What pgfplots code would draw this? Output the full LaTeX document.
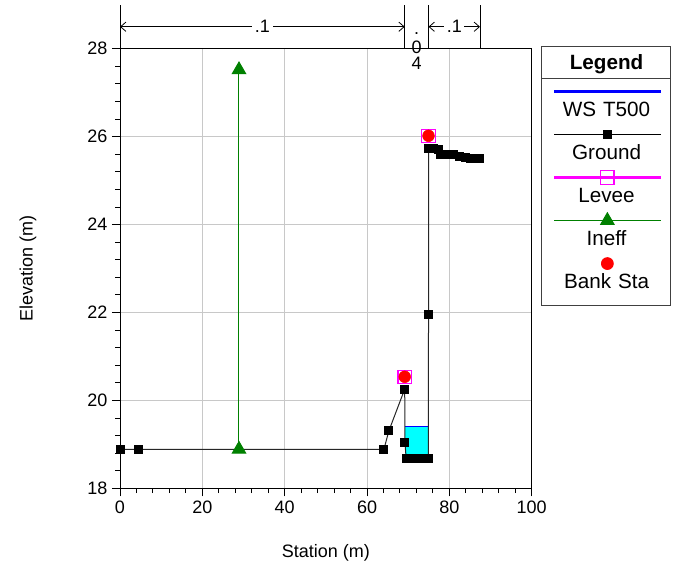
\documentclass[border=0pt]{standalone}
\usepackage{fontspec}
\setmainfont{Liberation Sans}
\usepackage{pgfplots}
\pgfplotsset{compat=1.18}
\usetikzlibrary{arrows.meta}
\definecolor{ineffgreen}{RGB}{0,128,0}
\definecolor{gridgray}{RGB}{200,200,200}
\definecolor{wscyan}{RGB}{0,255,255}
\definecolor{wsblue}{RGB}{0,0,255}
\definecolor{leveemag}{RGB}{255,0,255}
\definecolor{bankred}{RGB}{255,0,0}
\pgfplotsset{
  legWS/.style={legend image code/.code={%
    \path (0pt,0pt);
    \begin{scope}[overlay]
    \draw[draw=wsblue, line width=1.6pt] plot coordinates {(9pt,19pt) (89pt,19pt)};
    \end{scope}}},
  legGround/.style={legend image code/.code={%
    \path (0pt,0pt);
    \begin{scope}[overlay]
    \draw[draw=black, line width=0.75pt, mark=square*, mark size=3pt, mark repeat=2, mark phase=2, mark options={draw=black, fill=black}] plot coordinates {(9pt,19pt) (49pt,19pt) (89pt,19pt)};
    \end{scope}}},
  legLevee/.style={legend image code/.code={%
    \path (0pt,0pt);
    \begin{scope}[overlay]
    \draw[draw=leveemag, line width=1.6pt, mark=square, mark size=5pt, mark repeat=2, mark phase=2, mark options={draw=leveemag, fill=white, line width=0.9pt}] plot coordinates {(9pt,19pt) (49pt,19pt) (89pt,19pt)};
    \end{scope}}},
  legIneff/.style={legend image code/.code={%
    \path (0pt,0pt);
    \begin{scope}[overlay]
    \draw[draw=ineffgreen, line width=0.75pt, mark=triangle*, mark size=5.8pt, mark repeat=2, mark phase=2, mark options={draw=ineffgreen, fill=ineffgreen}] plot coordinates {(9pt,19pt) (49pt,19pt) (89pt,19pt)};
    \end{scope}}},
  legBank/.style={legend image code/.code={%
    \path (0pt,0pt);
    \begin{scope}[overlay]
    \draw[only marks, mark=*, mark size=4.4pt, mark options={draw=bankred, fill=bankred}] plot coordinates {(49pt,19pt)};
    \end{scope}}},
  legTitle/.style={legend image code/.code={%
    \path (0pt,0pt);
    \draw[overlay, draw=black!75, line width=0.75pt] (0pt,-6.45pt) -- (96pt,-6.45pt);}},
}
\begin{document}
\begin{tikzpicture}
\useasboundingbox (0,0) rectangle (508.5pt,426.75pt);
\begin{axis}[
  at={(90pt,60.4pt)}, anchor=south west,
  width=308.8pt, height=329.8pt, scale only axis,
  xmin=0, xmax=100, ymin=18, ymax=28,
  xtick={0,20,...,100}, ytick={18,20,...,28},
  minor x tick num=4, minor y tick num=4,
  tick pos=left, tick align=outside,
  major tick length=6pt, minor tick length=3.5pt,
  every tick/.style={black, line width=0.75pt},
  grid=major, major grid style={gridgray, line width=0.75pt},
  axis line style={black, line width=0.75pt},
  /pgf/number format/assume math mode=true,
  tick label style={font=\fontsize{13.5}{16}\selectfont},
  xlabel={Station (m)}, ylabel={Elevation (m)},
  every axis x label/.style={at={(axis description cs:0.5,-0.1467)}, anchor=center, font=\fontsize{13.5}{16}\selectfont},
  every axis y label/.style={at={(axis description cs:-0.2233,0.5)}, rotate=90, anchor=center, font=\fontsize{13.5}{16}\selectfont},
  clip=false,
  legend style={at={(axis description cs:1.0226,1.0064)}, anchor=north west,
    draw=black!75, line width=0.75pt, fill=white, inner sep=0pt,
    row sep=0pt, column sep=0pt,
    font=\fontsize{15.5}{18}\selectfont,
    nodes={inner sep=0pt, text width=96pt, align=center, text height=28.8pt, text depth=3.45pt},
    cells={anchor=base}},
]
% water surface
\addplot[fill=wscyan, draw=none, forget plot] coordinates {(69.2,18.69) (69.2,19.41) (74.9,19.41) (74.9,18.69)};
\addplot[draw=wsblue, line width=1pt, forget plot] coordinates {(69.2,19.41) (74.9,19.41)};
% ground
\addplot[draw=black!85, line width=0.75pt, mark=square*, mark size=3pt, mark options={fill=black, draw=black, solid}, forget plot] coordinates {
(0,18.89) (4.45,18.89) (64.1,18.89) (65.3,19.31) (69.15,20.26) (69.2,19.05)
(69.5,18.69) (70.6,18.69) (71.7,18.69) (72.8,18.69) (73.9,18.69) (74.9,18.69)
(74.93,21.96) (74.93,25.73) (76.2,25.74) (77.3,25.7) (77.8,25.59) (79.5,25.6)
(81.0,25.59) (82.4,25.56) (83.8,25.53) (85.2,25.51) (86.4,25.5) (87.4,25.51)};
% levee
\addplot[only marks, draw=leveemag, mark=square, mark size=5pt, mark options={draw=leveemag, fill=none, line width=0.9pt}, forget plot] coordinates {(69.15,20.54) (74.93,26.02)};
% ineffective
\addplot[draw=ineffgreen, line width=0.75pt, mark=triangle*, mark size=5.8pt, mark options={solid, draw=ineffgreen, fill=ineffgreen}, forget plot] coordinates {(28.9,18.89) (28.9,27.52)};
% bank stations
\addplot[only marks, mark=*, mark size=4.4pt, mark options={draw=bankred, fill=bankred}, forget plot] coordinates {(69.15,20.54) (74.93,26.02)};

% legend
\addlegendimage{legTitle}
\addlegendentry[text height=17.6pt, text depth=6.45pt, font=\fontsize{15.5}{18}\selectfont\bfseries]{Legend}
\addlegendimage{legWS}
\addlegendentry{WS T500}
\addlegendimage{legGround}
\addlegendentry{Ground}
\addlegendimage{legLevee}
\addlegendentry{Levee}
\addlegendimage{legIneff}
\addlegendentry{Ineff}
\addlegendimage{legBank}
\addlegendentry[text depth=12.45pt]{Bank Sta}

% dimension annotations above the plot
\draw[black, line width=0.6pt] (axis cs:0,28) -- (axis cs:0,29.0);
\draw[black, line width=0.6pt] (axis cs:69.15,28) -- (axis cs:69.15,29.0);
\draw[black, line width=0.6pt] (axis cs:74.93,28) -- (axis cs:74.93,29.0);
\draw[black, line width=0.6pt] (axis cs:87.44,28) -- (axis cs:87.44,29.0);
\draw[black, line width=0.6pt, {Straight Barb[length=4pt,width=7pt]}-{Straight Barb[length=4pt,width=7pt]}]
  (axis cs:0,28.5) -- node[fill=white, inner sep=2pt, font=\fontsize{13.5}{16}\selectfont] {.1} (axis cs:69.15,28.5);
\draw[black, line width=0.6pt, {Straight Barb[length=4pt,width=7pt]}-{Straight Barb[length=4pt,width=7pt]}]
  (axis cs:74.93,28.5) -- node[fill=white, inner sep=2pt, font=\fontsize{13.5}{16}\selectfont] {.1} (axis cs:87.44,28.5);
\node[anchor=base, inner sep=0pt, text height=1.5pt, text depth=0pt, font=\fontsize{13.5}{16}\selectfont] at (axis cs:72.04,28.33) {.};
\node[anchor=base, inner sep=0pt, text height=9.7pt, text depth=0pt, font=\fontsize{13.5}{16}\selectfont] at (axis cs:72.04,27.90) {0};
\node[anchor=base, inner sep=0pt, text height=9.7pt, text depth=0pt, font=\fontsize{13.5}{16}\selectfont] at (axis cs:72.04,27.52) {4};
\end{axis}
\end{tikzpicture}
\end{document}
